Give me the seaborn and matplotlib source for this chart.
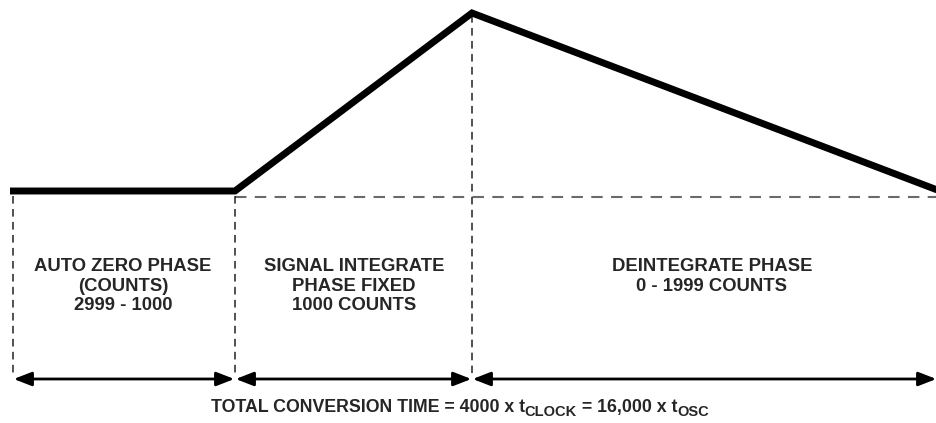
import numpy as np
import pandas as pd
import seaborn as sns
import matplotlib
matplotlib.use('Agg')
import matplotlib.pyplot as plt
from matplotlib.transforms import offset_copy

# Integrator output waveform (drawing units: x to the right, y downwards)
wave_x = [10, 235, 472, 940]
wave_y = [191, 191, 13, 191]

# Phase boundaries and reference level
phase_edges = [13, 235, 472, 937]
edge_tops = [196, 196, 15, 196]
baseline_y = 197

phase_labels = ["AUTO ZERO PHASE\n(COUNTS)\n2999 - 1000",
                "SIGNAL INTEGRATE\nPHASE FIXED\n1000 COUNTS",
                "DEINTEGRATE PHASE\n0 - 1999 COUNTS"]
label_x = [123, 354, 712]

# bottom caption: (text, is_subscript)
caption = [("TOTAL CONVERSION TIME = 4000 x t", False), ("CLOCK", True),
           (" = 16,000 x t", False), ("OSC", True)]

sns.set_style('white')
plt.rcParams['font.family'] = ['Liberation Sans', 'DejaVu Sans']

fig = plt.figure(figsize=(9.37, 4.23), dpi=100)
ax = fig.add_axes([0, 0, 1, 1])
ax.set_xlim(0, 937)
ax.set_ylim(423, 0)
ax.axis('off')

# gray dashed reference level
ax.plot([235, 937], [baseline_y, baseline_y], color='#6a6a6a', lw=1.5,
        dashes=(5.5, 4))

# vertical dashed phase boundaries
for x, top in zip(phase_edges[:3], edge_tops[:3]):
    ax.plot([x, x], [top, 373], color='#222222', lw=1.1, dashes=(5, 3.5))

# the waveform itself
df = pd.DataFrame({'x': wave_x, 'y': wave_y})
sns.lineplot(data=df, x='x', y='y', sort=False, color='black', lw=5,
             ax=ax, legend=False)
ax.lines[-1].set_solid_joinstyle('miter')
ax.lines[-1].set_solid_capstyle('butt')

# double arrows for each phase
arrow_y = 379
for a, b in zip(phase_edges[:-1], phase_edges[1:]):
    ax.annotate('', xy=(b, arrow_y), xytext=(a, arrow_y),
                arrowprops=dict(arrowstyle='<|-|>,head_length=0.9,head_width=0.35',
                                color='black', lw=2, shrinkA=0.5, shrinkB=0.5,
                                mutation_scale=12))

for x, txt in zip(label_x, phase_labels):
    ax.text(x, 258, txt, ha='center', va='top', fontsize=13.3,
            fontweight='bold', linespacing=1.2)

# caption built piece by piece so the subscripts can be sized freely
renderer = fig.canvas.get_renderer()
pieces = []
for txt, sub in caption:
    t = ax.text(0, 0, txt, fontsize=10.5 if sub else 12.8, fontweight='bold',
                va='baseline', ha='left')
    pieces.append((t, sub))
widths = [t.get_window_extent(renderer).width for t, _ in pieces]
total_w = sum(widths)
x0 = ax.transData.transform((460, 0))[0] - total_w / 2
base_y = ax.transData.transform((0, 412))[1]
for (t, sub), w in zip(pieces, widths):
    t.set_transform(matplotlib.transforms.IdentityTransform())
    t.set_position((x0, base_y - (4 if sub else 0)))
    x0 += w

fig.savefig('out.png', dpi=100)
